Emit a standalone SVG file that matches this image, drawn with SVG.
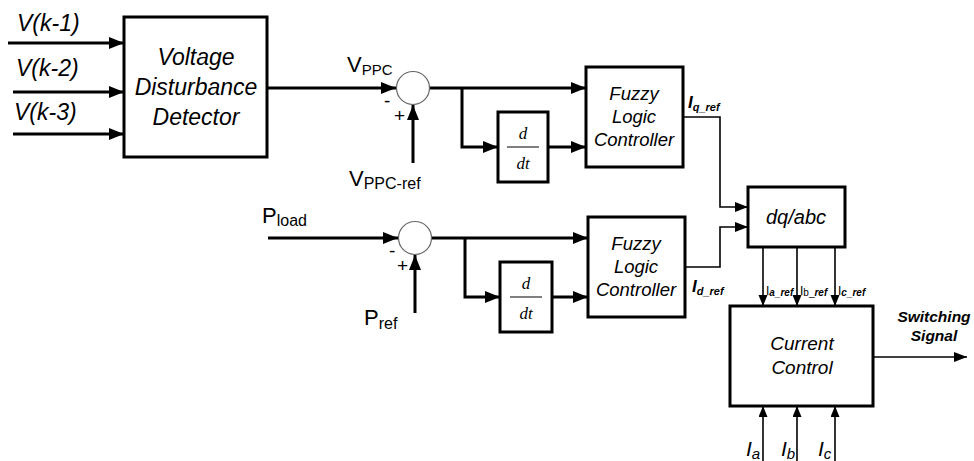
<svg xmlns="http://www.w3.org/2000/svg" width="974" height="461" viewBox="0 0 974 461">
<defs>
<marker id="ah" markerUnits="userSpaceOnUse" markerWidth="16" markerHeight="12" refX="15" refY="6" orient="auto"><path d="M0,0 L15,6 L0,12 Z" fill="#000"/></marker>
<marker id="as" markerUnits="userSpaceOnUse" markerWidth="14" markerHeight="10" refX="13" refY="5" orient="auto"><path d="M0,0 L13,5 L0,10 Z" fill="#000"/></marker>
<marker id="at" markerUnits="userSpaceOnUse" markerWidth="10" markerHeight="12" refX="11" refY="4.5" orient="auto"><path d="M0,0 L11,4.5 L0,9 Z" fill="#000"/></marker>
</defs>
<style>
.box{fill:#fff;stroke:#000;stroke-width:3}
.w{fill:none;stroke:#000;stroke-width:3}
.t{fill:none;stroke:#000;stroke-width:1.6}
.sum{fill:#fff;stroke:#666;stroke-width:1.2}
.it{font-family:"Liberation Sans",Arial,sans-serif;font-style:italic;fill:#000}
.n{font-family:"Liberation Sans",Arial,sans-serif;fill:#000}
.dd{font-family:"Liberation Serif","Times New Roman",serif;font-style:italic;font-size:17px;fill:#000;text-anchor:middle}
.c{text-anchor:middle}
</style>
<rect width="974" height="461" fill="#fff"/>
<g id="connectors">
<path class="w" d="M8,43 H124" marker-end="url(#ah)"/>
<path class="w" d="M13,92 H124" marker-end="url(#ah)"/>
<path class="w" d="M13,134 H124" marker-end="url(#ah)"/>
<path class="w" d="M267,88 H396" marker-end="url(#ah)"/>
<path class="w" d="M413,163 V105" marker-end="url(#ah)"/>
<path class="w" d="M430,88 H586" marker-end="url(#ah)"/>
<path class="w" d="M462,88 V147 H498" marker-end="url(#ah)"/>
<path class="w" d="M548,147 H586" marker-end="url(#ah)"/>
<path class="w" d="M268,238 H398" marker-end="url(#ah)"/>
<path class="w" d="M415,313 V255" marker-end="url(#ah)"/>
<path class="w" d="M432,238 H588" marker-end="url(#ah)"/>
<path class="w" d="M465,238 V297 H500" marker-end="url(#ah)"/>
<path class="w" d="M552,297 H588" marker-end="url(#ah)"/>
<path class="t" d="M683,117 H720 V207 H748" marker-end="url(#as)"/>
<path class="t" d="M685,267 H720 V227 H748" marker-end="url(#as)"/>
<path class="t" d="M763,247 V306" marker-end="url(#at)"/>
<path class="t" d="M797,247 V306" marker-end="url(#at)"/>
<path class="t" d="M835,247 V306" marker-end="url(#at)"/>
<path class="t" d="M873,357 H967" marker-end="url(#as)"/>
<path class="t" d="M763,461 V406" marker-end="url(#at)"/>
<path class="t" d="M797,461 V406" marker-end="url(#at)"/>
<path class="t" d="M835,461 V406" marker-end="url(#at)"/>
</g>
<g id="inputs">
<text class="it" x="17" y="31" font-size="23">V(k-1)</text>
<text class="it" x="16" y="76" font-size="23">V(k-2)</text>
<text class="it" x="14" y="120" font-size="23">V(k-3)</text>
</g>
<g id="vdd">
<rect class="box" x="124" y="17" width="143" height="140"/>
<text class="it c" x="196" y="65" font-size="23">Voltage</text>
<text class="it c" x="196" y="95" font-size="23">Disturbance</text>
<text class="it c" x="196" y="125" font-size="23">Detector</text>
</g>
<g id="sum1">
<circle class="sum" cx="413" cy="88" r="16.5"/>
<text class="n" x="347" y="72" font-size="22">V<tspan font-size="15" dy="3">PPC</tspan></text>
<text class="n" x="384" y="107" font-size="19">-</text>
<text class="n" x="394" y="122" font-size="19">+</text>
<text class="n" x="349" y="186" font-size="22">V<tspan font-size="16" dy="3">PPC-ref</tspan></text>
</g>
<g id="ddt1">
<rect class="box" x="498" y="112" width="50" height="70"/>
<text class="dd" x="523" y="139">d</text>
<line x1="507" y1="147" x2="539" y2="147" stroke="#000" stroke-width="1"/>
<text class="dd" x="523" y="169">dt</text>
</g>
<g id="flc1">
<rect class="box" x="586" y="67" width="97" height="100"/>
<text class="it c" x="634" y="100" font-size="18.5">Fuzzy</text>
<text class="it c" x="634" y="123" font-size="18.5">Logic</text>
<text class="it c" x="634" y="146" font-size="18.5">Controller</text>
<text class="it" x="688" y="108" font-size="17" font-weight="bold">I<tspan font-size="11" dy="3">q_ref</tspan></text>
</g>
<g id="sum2">
<circle class="sum" cx="415" cy="238" r="16.5"/>
<text class="n" x="262" y="223" font-size="22">P<tspan font-size="16" dy="3">load</tspan></text>
<text class="n" x="389" y="257" font-size="19">-</text>
<text class="n" x="397" y="272" font-size="19">+</text>
<text class="n" x="364" y="325" font-size="22">P<tspan font-size="16" dy="4">ref</tspan></text>
</g>
<g id="ddt2">
<rect class="box" x="500" y="262" width="52" height="70"/>
<text class="dd" x="526" y="289">d</text>
<line x1="510" y1="297" x2="542" y2="297" stroke="#000" stroke-width="1"/>
<text class="dd" x="526" y="319">dt</text>
</g>
<g id="flc2">
<rect class="box" x="588" y="217" width="97" height="100"/>
<text class="it c" x="636" y="250" font-size="18.5">Fuzzy</text>
<text class="it c" x="636" y="273" font-size="18.5">Logic</text>
<text class="it c" x="636" y="296" font-size="18.5">Controller</text>
<text class="it" x="692" y="292" font-size="17" font-weight="bold">I<tspan font-size="11" dy="3">d_ref</tspan></text>
</g>
<g id="dqabc">
<rect class="box" x="748" y="187" width="97" height="60"/>
<text class="it c" x="796" y="224" font-size="20">dq/abc</text>
<text class="n" x="766" y="295" font-size="12">I<tspan class="it" font-weight="bold" font-size="10" dy="1">a_ref</tspan></text>
<text class="n" x="800" y="295" font-size="12">I<tspan font-size="10" dy="1">b_</tspan><tspan class="it" font-weight="bold" font-size="10">ref</tspan></text>
<text class="n" x="838" y="295" font-size="12">I<tspan class="it" font-weight="bold" font-size="10" dy="1">c_ref</tspan></text>
</g>
<g id="cc">
<rect class="box" x="730" y="306" width="143" height="100"/>
<text class="it c" x="802" y="350" font-size="19">Current</text>
<text class="it c" x="802" y="374" font-size="19">Control</text>
<text class="it c" x="934" y="322" font-size="15.5" font-weight="bold">Switching</text>
<text class="it c" x="934" y="341" font-size="15.5" font-weight="bold">Signal</text>
<text class="it" x="746" y="456" font-size="21">I<tspan font-size="15" dy="3">a</tspan></text>
<text class="it" x="781" y="456" font-size="21">I<tspan font-size="15" dy="3">b</tspan></text>
<text class="it" x="818" y="456" font-size="21">I<tspan font-size="15" dy="3">c</tspan></text>
</g>
</svg>
